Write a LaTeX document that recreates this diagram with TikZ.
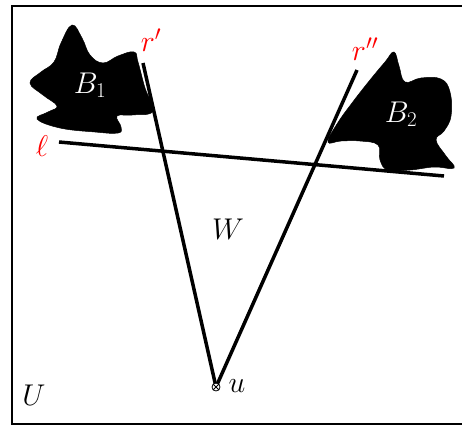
\RequirePackage{fix-cm}
\documentclass[tikz,border=0pt]{standalone}
\usepackage{amsmath}
\begin{document}
\begin{tikzpicture}[x=1pt,y=-1pt,
  lbl/.style={inner sep=0pt, font=\fontsize{30}{36}\selectfont},
  redlbl/.style={lbl, text=red},
  whitelbl/.style={lbl, text=white},
  ray/.style={line width=3.5pt},
  blob/.style={fill=black, draw=black, line width=0.5pt}]
\useasboundingbox (0,0) rectangle (462,426);
\clip (0,0) rectangle (462,426);
% frame
\draw[line width=2.2pt] (12,6) rectangle (470,424);
% blobs
\path[blob] plot[smooth cycle, tension=0.7] coordinates {
  (72,25) (82,38) (90,55) (103,63) (118,56) (134,52) (138,62)
  (145,88) (153,111) (132,115) (117,116) (121,127) (118,133)
  (95,132) (60,128) (37,119) (48,112) (57,106) (43,95) (30,83)
  (41,72) (54,62) (61,43)};
\path[blob] plot[smooth cycle, tension=0.7] coordinates {
  (394,52) (399,66) (405,82) (421,78) (441,79) (450,92) (451,116)
  (444,131) (436,140) (446,156) (454,168) (434,167) (410,170)
  (388,170) (380,160) (378,145) (360,141) (341,141) (328,142)
  (337,124) (352,103) (370,80) (385,62)};
% points
\coordinate (u) at (216,387);
\coordinate (rp) at (143,63);
\coordinate (rpp) at (357,70);
\coordinate (la) at (59,142);
\coordinate (lb) at (444,176);
% lines
\draw[ray] (rp) -- (u);
\draw[ray] (rpp) -- (u);
\draw[ray] (la) -- (lb);
% otimes at u
\node[circle, draw, fill=white, line width=0.8pt, minimum size=8pt, inner sep=0pt] (uc) at (u) {};
\draw[line width=0.8pt] (uc.north west) -- (uc.south east) (uc.north east) -- (uc.south west);
% labels
\node[redlbl] (lrp) at (151,40) {$r'$};
\node[redlbl] (lrpp) at (365,49) {$r''$};
\node[redlbl] (lell) at (42,146) {$\ell$};
\node[whitelbl] (lb1) at (90,85) {$B_1$};
\node[whitelbl] (lb2) at (401,114) {$B_2$};
\node[lbl] (lw) at (228,229) {$W$};
\node[lbl] (lU) at (34,395) {$U$};
\node[lbl] (lu) at (237,386) {$u$};
\end{tikzpicture}
\end{document}
